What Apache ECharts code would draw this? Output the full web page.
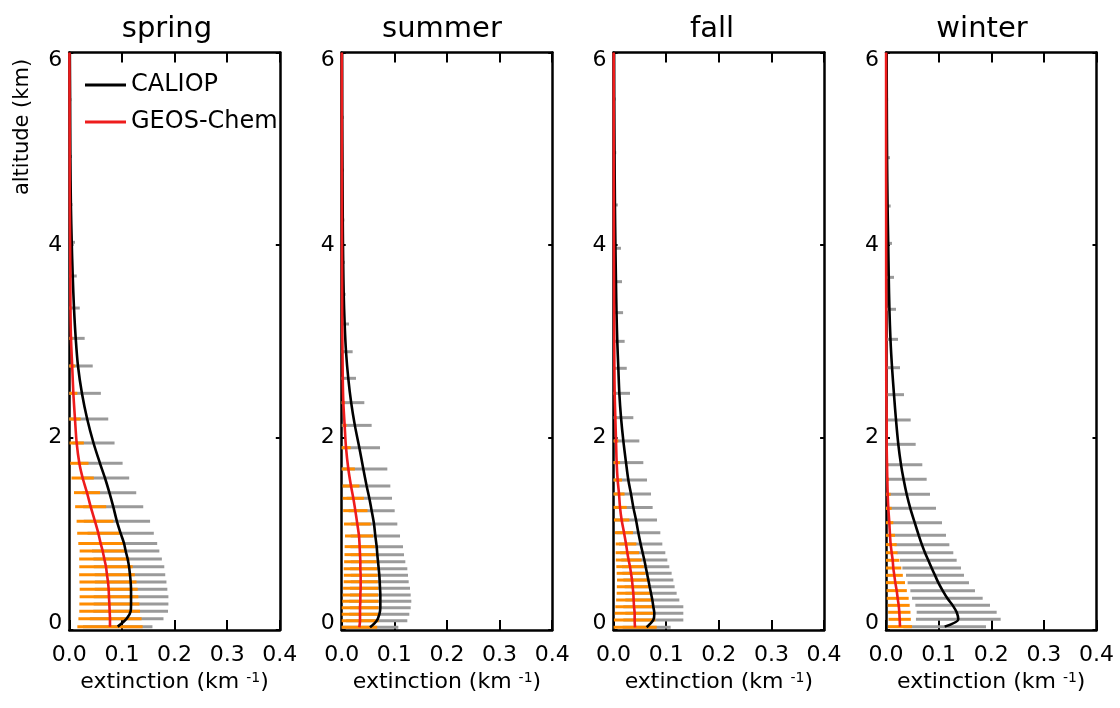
<!DOCTYPE html>
<html>
<head>
<meta charset="utf-8">
<script src="https://cdn.jsdelivr.net/npm/echarts@6/dist/echarts.min.js"></script>
<style>
  html, body { margin: 0; padding: 0; background: #fff; }
  #chart { width: 1120px; height: 708px; }
</style>
</head>
<body>
<div id="chart"></div>
<script>
// Seasonal aerosol extinction profiles: CALIOP vs GEOS-Chem (mean and 1-sigma spread)
const seasonNames = ['spring', 'summer', 'fall', 'winter'];
const extinctionTicks = [0.0, 0.1, 0.2, 0.3, 0.4];
const altitudeTicks = [0, 2, 4, 6];

// spring
const springAlt = [0.035, 0.118, 0.194, 0.270, 0.346, 0.423, 0.499, 0.575, 0.658, 0.738, 0.821, 0.900, 1.004, 1.129, 1.281, 1.427, 1.579, 1.732, 1.943, 2.192, 2.459, 2.743, 3.030, 3.345, 3.678, 4.028, 4.420, 4.920, 5.510];
const springCaliopMean = [0.092, 0.109, 0.1166, 0.1173, 0.1173, 0.1173, 0.1166, 0.1153, 0.1135, 0.1109, 0.1071, 0.1040, 0.0976, 0.0905, 0.0835, 0.0762, 0.0678, 0.0583, 0.0460, 0.0340, 0.0240, 0.0165, 0.0122, 0.0089, 0.0065, 0.0046, 0.0030, 0.0020, 0.0015];
const springCaliopSd = [0.066, 0.070, 0.071, 0.071, 0.071, 0.069, 0.068, 0.067, 0.067, 0.065, 0.064, 0.063, 0.063, 0.063, 0.057, 0.051, 0.046, 0.043, 0.040, 0.040, 0.036, 0.028, 0.017, 0.011, 0.0076, 0.0062, 0.0030, 0.0030, 0.0025];
const springGeosMean = [0.0773, 0.0773, 0.0767, 0.0761, 0.0754, 0.0748, 0.0735, 0.0716, 0.0697, 0.0666, 0.0634, 0.0596, 0.0552, 0.0488, 0.0406, 0.0336, 0.0254, 0.0191, 0.0140, 0.0108, 0.0077, 0.0055, 0.0032, 0.0022, 0.0020, 0.0015, 0.0010, 0.0008, 0.0005];
const springGeosSd = [0.062, 0.060, 0.0577, 0.057, 0.0558, 0.0551, 0.0542, 0.0529, 0.0507, 0.0478, 0.0437, 0.0425, 0.0402, 0.0349, 0.0295, 0.0247, 0.0212, 0.0174, 0.0136, 0.0108, 0.0076, 0.0055, 0.0032, 0.0022, 0.0020, 0.0015, 0.0010, 0.0008, 0.0005];

// summer
const summerAlt = [0.028, 0.097, 0.163, 0.232, 0.298, 0.364, 0.433, 0.502, 0.568, 0.637, 0.710, 0.783, 0.866, 0.977, 1.101, 1.240, 1.368, 1.496, 1.673, 1.894, 2.126, 2.362, 2.615, 2.891, 3.179, 3.488, 3.820, 4.260, 4.779, 5.327];
const summerCaliopMean = [0.0538, 0.0665, 0.0715, 0.0734, 0.0734, 0.0734, 0.0728, 0.0722, 0.0715, 0.0703, 0.0690, 0.0677, 0.0665, 0.0639, 0.0614, 0.0569, 0.0525, 0.0474, 0.0411, 0.0335, 0.0250, 0.0180, 0.0125, 0.0082, 0.0056, 0.0038, 0.0028, 0.0020, 0.0015, 0.0010];
const summerCaliopSd = [0.0538, 0.0582, 0.057, 0.0577, 0.0589, 0.0577, 0.057, 0.0551, 0.0545, 0.0544, 0.0519, 0.0507, 0.0500, 0.0469, 0.0443, 0.0438, 0.0431, 0.0450, 0.0456, 0.0393, 0.0319, 0.0250, 0.0147, 0.0126, 0.0083, 0.0037, 0.0032, 0.0030, 0.0025, 0.0030];
const summerGeosMean = [0.0335, 0.0348, 0.0348, 0.0348, 0.0354, 0.0354, 0.0360, 0.0360, 0.0360, 0.0354, 0.0354, 0.0348, 0.0341, 0.0329, 0.0297, 0.0259, 0.0221, 0.0177, 0.0126, 0.0082, 0.0056, 0.0031, 0.0020, 0.0015, 0.0010, 0.0008, 0.0006, 0.0005, 0.0004, 0.0003];
const summerGeosSd = [0.034, 0.0355, 0.0349, 0.0349, 0.0342, 0.0336, 0.0333, 0.0323, 0.0320, 0.0317, 0.0308, 0.0295, 0.0285, 0.0266, 0.0253, 0.0231, 0.0200, 0.0159, 0.0124, 0.0088, 0.0038, 0.0032, 0.0020, 0.0015, 0.0010, 0.0008, 0.0006, 0.0005, 0.0004, 0.0003];

// fall
const fallAlt = [0.028, 0.104, 0.173, 0.242, 0.312, 0.381, 0.450, 0.519, 0.589, 0.658, 0.727, 0.803, 0.894, 1.011, 1.143, 1.274, 1.413, 1.558, 1.739, 1.964, 2.206, 2.459, 2.719, 2.999, 3.297, 3.619, 3.966, 4.416, 4.959, 5.517];
const fallCaliopMean = [0.0628, 0.0755, 0.0774, 0.0755, 0.0736, 0.0711, 0.0685, 0.0660, 0.0635, 0.0609, 0.0584, 0.0552, 0.0514, 0.0470, 0.0426, 0.0375, 0.0331, 0.0280, 0.0236, 0.0185, 0.0141, 0.0109, 0.0090, 0.0070, 0.0055, 0.0045, 0.0035, 0.0025, 0.0018, 0.0012];
const fallCaliopSd = [0.0456, 0.057, 0.0551, 0.057, 0.0513, 0.0487, 0.0475, 0.0475, 0.0468, 0.0450, 0.0437, 0.0431, 0.0412, 0.0418, 0.0399, 0.0367, 0.0380, 0.0355, 0.0329, 0.0304, 0.0234, 0.0203, 0.0160, 0.0140, 0.0125, 0.0115, 0.0105, 0.0055, 0.0032, 0.0028];
const fallGeosMean = [0.0407, 0.0400, 0.0400, 0.0388, 0.0381, 0.0375, 0.0362, 0.0350, 0.0331, 0.0312, 0.0286, 0.0261, 0.0236, 0.0198, 0.0153, 0.0122, 0.0103, 0.0077, 0.0058, 0.0046, 0.0033, 0.0020, 0.0015, 0.0012, 0.0010, 0.0008, 0.0006, 0.0005, 0.0004, 0.0003];
const fallGeosSd = [0.0412, 0.0393, 0.0377, 0.0355, 0.0333, 0.0317, 0.0301, 0.0285, 0.0273, 0.0260, 0.0244, 0.0222, 0.0196, 0.0171, 0.0146, 0.0127, 0.0105, 0.0082, 0.0063, 0.0044, 0.0025, 0.0026, 0.0015, 0.0012, 0.0010, 0.0008, 0.0006, 0.0005, 0.0004, 0.0003];

// winter
const winterAlt = [0.035, 0.111, 0.184, 0.256, 0.329, 0.409, 0.492, 0.568, 0.644, 0.724, 0.803, 0.887, 0.984, 1.115, 1.264, 1.410, 1.565, 1.718, 1.929, 2.182, 2.445, 2.725, 3.020, 3.332, 3.664, 4.017, 4.405, 4.907, 5.510];
const winterCaliopMean = [0.1115, 0.1374, 0.1343, 0.1267, 0.1166, 0.1077, 0.0994, 0.0931, 0.0868, 0.0804, 0.0741, 0.0682, 0.0622, 0.0546, 0.0462, 0.0393, 0.0334, 0.0285, 0.0234, 0.0190, 0.0152, 0.0115, 0.0085, 0.0065, 0.0052, 0.0042, 0.0030, 0.0020, 0.0015];
const winterCaliopSd = [0.0785, 0.0805, 0.0760, 0.0709, 0.0671, 0.0614, 0.0583, 0.0551, 0.0557, 0.0539, 0.0538, 0.0522, 0.0518, 0.0518, 0.0488, 0.0443, 0.0439, 0.0405, 0.0330, 0.0279, 0.0190, 0.0151, 0.0143, 0.0125, 0.0100, 0.0072, 0.0059, 0.0056, 0.0025];
const winterGeosMean = [0.0266, 0.0260, 0.0253, 0.0241, 0.0222, 0.0203, 0.0177, 0.0158, 0.0139, 0.0127, 0.0108, 0.0089, 0.0076, 0.0063, 0.0044, 0.0032, 0.0025, 0.0019, 0.0013, 0.0013, 0.0006, 0.0005, 0.0004, 0.0004, 0.0003, 0.0003, 0.0003, 0.0002, 0.0002];
const winterGeosSd = [0.0228, 0.0212, 0.0212, 0.0209, 0.0209, 0.0193, 0.0184, 0.0162, 0.0152, 0.0127, 0.0111, 0.0114, 0.0095, 0.0076, 0.0064, 0.0057, 0.0032, 0.0025, 0.0025, 0.0019, 0.0019, 0.0010, 0.0008, 0.0006, 0.0005, 0.0004, 0.0003, 0.0002, 0.0002];

// profile values where the mean curves reach the top of the column (6 km), per season
const profileTopAlt = 6;
const caliopTop = [0.0010, 0.0008, 0.0010, 0.0012];
const geosTop = [0.0003, 0.0002, 0.0002, 0.0002];

const panels = [
  { alt: springAlt, cMean: springCaliopMean, cSd: springCaliopSd, gMean: springGeosMean, gSd: springGeosSd },
  { alt: summerAlt, cMean: summerCaliopMean, cSd: summerCaliopSd, gMean: summerGeosMean, gSd: summerGeosSd },
  { alt: fallAlt, cMean: fallCaliopMean, cSd: fallCaliopSd, gMean: fallGeosMean, gSd: fallGeosSd },
  { alt: winterAlt, cMean: winterCaliopMean, cSd: winterCaliopSd, gMean: winterGeosMean, gSd: winterGeosSd }
];

// layout
const FONT = '"DejaVu Sans", sans-serif';
const panelLeft = [69.3, 341.7, 613.6, 886.0];
const plotWidth = 210.5, plotTop = 52.5, plotHeight = 577.5;
const titleCenter = [167, 442, 712, 982];

const COLORS = { caliop: '#000000', geos: '#ee1c1c', caliopBar: '#9a9a9a', geosBar: '#ff8c00' };

const xMin = extinctionTicks[0];
const xMax = extinctionTicks[extinctionTicks.length - 1];
const xStep = extinctionTicks[1] - extinctionTicks[0];
const yMin = altitudeTicks[0];
const yMax = altitudeTicks[altitudeTicks.length - 1];
const yStep = altitudeTicks[1] - altitudeTicks[0];

const axisLineStyle = { color: '#000', width: 2.5 };
const labelFont = { fontFamily: FONT, fontSize: 22, color: '#000' };

const grid = [], xAxis = [], yAxis = [];
panels.forEach((p, i) => {
  grid.push({ left: panelLeft[i], top: plotTop, width: plotWidth, height: plotHeight, containLabel: false });
  xAxis.push({
    type: 'value', gridIndex: i, position: 'bottom', min: xMin, max: xMax, interval: xStep,
    axisLine: { show: true, onZero: false, lineStyle: axisLineStyle },
    axisTick: { show: true, inside: true, length: 10, lineStyle: { color: '#000', width: 2 } },
    axisLabel: Object.assign({ show: true, margin: 14, showMinLabel: true, showMaxLabel: true,
      formatter: v => v.toFixed(1) }, labelFont),
    splitLine: { show: false },
    name: 'extinction (km {sup|-1})', nameLocation: 'middle', nameGap: 38,
    nameTextStyle: Object.assign({
      rich: { sup: { fontFamily: FONT, fontSize: 14, color: '#000', verticalAlign: 'top' } } }, labelFont)
  });
  xAxis.push({
    type: 'value', gridIndex: i, position: 'top', min: xMin, max: xMax, interval: xStep,
    axisLine: { show: true, onZero: false, lineStyle: axisLineStyle },
    axisTick: { show: true, inside: true, length: 10, lineStyle: { color: '#000', width: 2 } },
    axisLabel: { show: false }, splitLine: { show: false }
  });
  yAxis.push({
    type: 'value', gridIndex: i, position: 'left', min: yMin, max: yMax, interval: yStep,
    axisLine: { show: true, onZero: false, lineStyle: axisLineStyle },
    axisTick: { show: true, inside: true, length: 4, lineStyle: { color: '#000', width: 2 } },
    axisLabel: Object.assign({ show: true, margin: 7, showMinLabel: true, showMaxLabel: true,
      // end labels sit just inside the axis range
      formatter: v => v === yMin ? '{lo|' + v + '}' : (v === yMax ? '{hi|' + v + '}' : '{mid|' + v + '}'),
      rich: {
        lo: Object.assign({ padding: [0, 0, 14, 0] }, labelFont),
        hi: Object.assign({ padding: [15, 0, 0, 0] }, labelFont),
        mid: Object.assign({}, labelFont)
      } }, labelFont),
    splitLine: { show: false }
  });
  yAxis.push({
    type: 'value', gridIndex: i, position: 'right', min: yMin, max: yMax, interval: yStep,
    axisLine: { show: true, onZero: false, lineStyle: axisLineStyle },
    axisTick: { show: true, inside: true, length: 4, lineStyle: { color: '#000', width: 2 } },
    axisLabel: { show: false }, splitLine: { show: false }
  });
});

// horizontal mean +/- sd bar at each level, clamped to the axis range
function spreadBar(color) {
  return function (params, api) {
    const alt = api.value(0), mean = api.value(1), sd = api.value(2);
    const a = api.coord([Math.max(xMin, mean - sd), alt]);
    const b = api.coord([Math.min(xMax, mean + sd), alt]);
    return {
      type: 'line', silent: true,
      shape: { x1: a[0], y1: a[1], x2: b[0], y2: b[1] },
      style: { stroke: color, lineWidth: 3, lineCap: 'butt' }
    };
  };
}

const barSeries = [], lineSeries = [];
panels.forEach((p, i) => {
  const axes = { xAxisIndex: 2 * i, yAxisIndex: 2 * i };
  barSeries.push(Object.assign({
    type: 'custom', name: 'CALIOP spread', renderItem: spreadBar(COLORS.caliopBar),
    encode: { x: 1, y: 0 }, data: p.alt.map((a, k) => [a, p.cMean[k], p.cSd[k]])
  }, axes));
  barSeries.push(Object.assign({
    type: 'custom', name: 'GEOS-Chem spread', renderItem: spreadBar(COLORS.geosBar),
    encode: { x: 1, y: 0 }, data: p.alt.map((a, k) => [a, p.gMean[k], p.gSd[k]])
  }, axes));
});
panels.forEach((p, i) => {
  const axes = { xAxisIndex: 2 * i, yAxisIndex: 2 * i };
  lineSeries.push(Object.assign({
    type: 'line', name: 'CALIOP', color: COLORS.caliop, smooth: 0.3, symbol: 'none', clip: false,
    lineStyle: { color: COLORS.caliop, width: 2.6 }, itemStyle: { color: COLORS.caliop },
    data: p.alt.map((a, k) => [p.cMean[k], a]).concat([[caliopTop[i], profileTopAlt]])
  }, axes));
});
panels.forEach((p, i) => {
  const axes = { xAxisIndex: 2 * i, yAxisIndex: 2 * i };
  lineSeries.push(Object.assign({
    type: 'line', name: 'GEOS-Chem', color: COLORS.geos, smooth: 0.3, symbol: 'none', clip: false,
    lineStyle: { color: COLORS.geos, width: 2.6 }, itemStyle: { color: COLORS.geos },
    data: p.alt.map((a, k) => [p.gMean[k], a]).concat([[geosTop[i], profileTopAlt]])
  }, axes));
});

const graphic = seasonNames.map((s, i) => ({
  type: 'text', x: titleCenter[i], y: 29, silent: true,
  style: { text: s, font: '29px ' + FONT, fill: '#000', align: 'center', verticalAlign: 'middle' }
}));
graphic.push({
  type: 'text', x: 23, y: 127, rotation: Math.PI / 2, silent: true,
  style: { text: 'altitude (km)', font: '21px ' + FONT, fill: '#000', align: 'center', verticalAlign: 'middle' }
});

const chart = echarts.init(document.getElementById('chart'), null, { renderer: 'canvas' });
chart.setOption({
  animation: false,
  backgroundColor: '#fff',
  grid, xAxis, yAxis,
  legend: {
    data: ['CALIOP', 'GEOS-Chem'], orient: 'vertical', left: 80, top: 68,
    itemWidth: 41, itemHeight: 3, itemGap: 13, icon: 'rect', selectedMode: false,
    textStyle: { fontFamily: FONT, fontSize: 24, color: '#000', lineHeight: 24 }
  },
  graphic,
  series: barSeries.concat(lineSeries)
});
</script>
</body>
</html>
